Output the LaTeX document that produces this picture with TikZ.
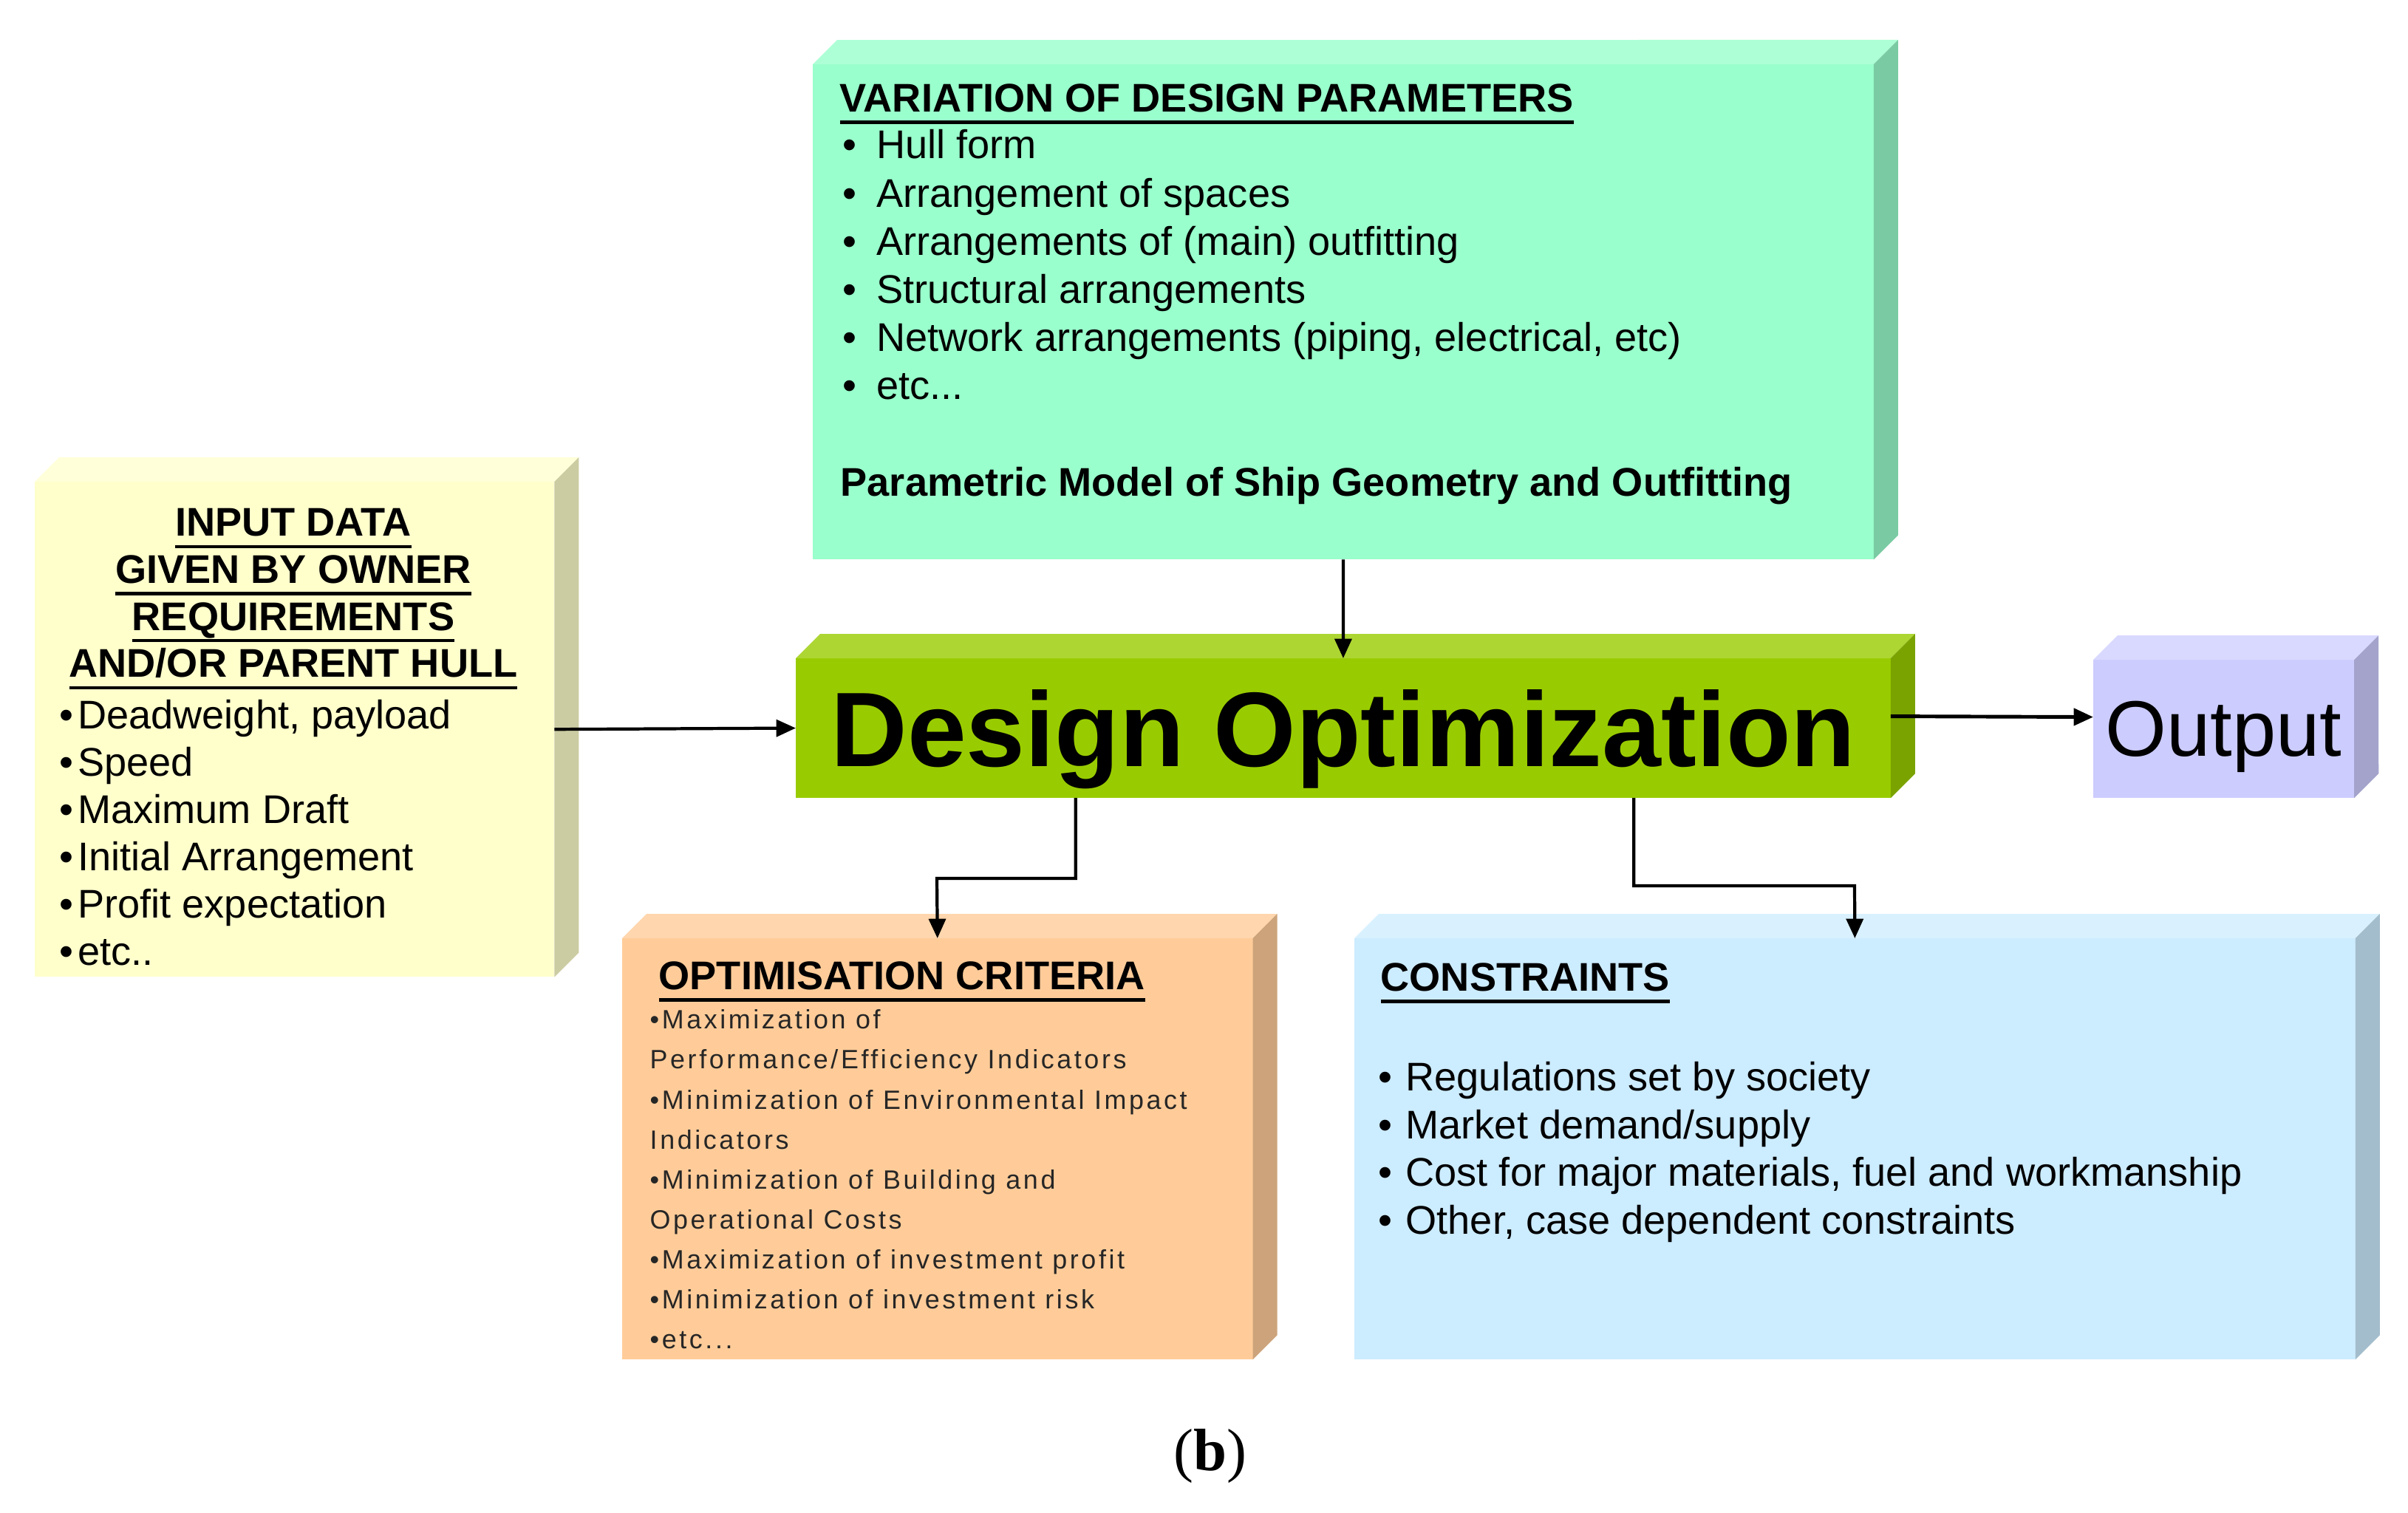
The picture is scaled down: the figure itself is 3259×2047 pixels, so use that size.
\documentclass[tikz,border=0pt]{standalone}
\usepackage{fontspec}
\setmainfont{Liberation Sans}
\newfontfamily\serifb{Liberation Serif}
\newfontfamily\critfont[LetterSpace=10]{Liberation Sans}
\usetikzlibrary{arrows.meta,calc}
\definecolor{varFront}{HTML}{99FFCC}
\definecolor{varTop}{HTML}{ADFFD6}
\definecolor{varSide}{HTML}{7ACBA3}
\definecolor{inpFront}{HTML}{FFFFCC}
\definecolor{inpTop}{HTML}{FFFFD9}
\definecolor{inpSide}{HTML}{CCCCA3}
\definecolor{doptFront}{HTML}{99CC00}
\definecolor{doptTop}{HTML}{ADD633}
\definecolor{doptSide}{HTML}{7AA300}
\definecolor{outFront}{HTML}{CCCCFF}
\definecolor{outTop}{HTML}{D9D9FF}
\definecolor{outSide}{HTML}{A3A3CC}
\definecolor{critFront}{HTML}{FFCC99}
\definecolor{critTop}{HTML}{FFD6AD}
\definecolor{critSide}{HTML}{CCA37A}
\definecolor{consFront}{HTML}{CCECFF}
\definecolor{consTop}{HTML}{D9F1FF}
\definecolor{consSide}{HTML}{A3BDCC}
\newcommand{\hdr}[1]{\setbox0\hbox{#1}\rlap{\rule[-4.6pt]{\wd0}{1.3pt}}\box0}
\newcommand{\blt}[1][13pt]{\makebox[#1][l]{\textbullet}}

\begin{document}
\begin{tikzpicture}[x=0.01cm,y=-0.01cm,
  face/.style={rectangle,inner sep=0pt,outer sep=0pt,anchor=north west},
  txt/.style={inner sep=0pt,anchor=north west,align=left,font=\fontsize{15.4}{18.5}\selectfont},
  head/.style={txt,font=\bfseries\fontsize{15.4}{18.1}\selectfont},
  arr/.style={line width=1.2pt,-{Triangle[length=7.5pt,width=6.5pt]}}]
  \fill[white] (0,0) rectangle (3259,2047);
  \useasboundingbox (0,0) rectangle (3259,2047);

  % Front faces of the boxes
  \node[face,fill=varFront,minimum width=14.35cm,minimum height=6.70cm] (var) at (1100,87) {};
  \node[face,fill=inpFront,minimum width=7.03cm,minimum height=6.70cm] (inp) at (47,652) {};
  \node[face,fill=doptFront,minimum width=14.81cm,minimum height=1.89cm,text depth=0pt,
        font=\bfseries\fontsize{40.8}{48}\selectfont] (dopt) at (1077,891) {Design Optimization};
  \node[face,fill=outFront,minimum width=3.53cm,minimum height=1.87cm,text depth=0pt,
        font=\fontsize{30.3}{36}\selectfont] (out) at (2833,893) {Output};
  \node[face,fill=critFront,minimum width=8.53cm,minimum height=5.70cm] (crit) at (842,1270) {};
  \node[face,fill=consFront,minimum width=13.54cm,minimum height=5.70cm] (cons) at (1833,1270) {};

  % Top and side faces
  \foreach \b in {var,inp,dopt,out,crit,cons}{
    \fill[\b Top] (\b.north west) -- ++(33,-33) -- ([shift={(0.33cm,0.33cm)}]\b.north east) -- (\b.north east) -- cycle;
    \fill[\b Side] (\b.north east) -- ++(33,-33) -- ([shift={(0.33cm,0.33cm)}]\b.south east) -- (\b.south east) -- cycle;
  }

  % Variation of design parameters
  \node[head] (varHead) at (1136,113) {\hdr{VARIATION OF DESIGN PARAMETERS}};
  \node[txt] (varList) at (1140,175) {\blt Hull form\\ \blt Arrangement of spaces\\
    \blt Arrangements of (main) outfitting\\ \blt Structural arrangements\\
    \blt Network arrangements (piping, electrical, etc)\\ \blt etc...};
  \node[head] (varFoot) at (1137,632) {Parametric Model of Ship Geometry and Outfitting};

  % Input data
  \node[head,anchor=north,align=center] (inpHead) at (397,688) {\hdr{INPUT DATA}\\ \hdr{GIVEN BY OWNER}\\
    \hdr{REQUIREMENTS}\\ \hdr{AND/OR PARENT HULL}};
  \node[txt,font=\fontsize{15.4}{18.2}\selectfont] (inpList) at (80,947) {\blt[7pt]Deadweight, payload\\
    \blt[7pt]Speed\\ \blt[7pt]Maximum Draft\\
    \blt[7pt]Initial Arrangement\\ \blt[7pt]Profit expectation\\ \blt[7pt]etc..};

  % Optimisation criteria
  \node[head] (critHead) at (891,1301) {\hdr{OPTIMISATION CRITERIA}};
  \node[txt,text=black!85,font=\critfont\fontsize{10.2}{15.4}\selectfont] (critList) at (879,1366)
    {\textbullet Maximization of\\ Performance/Efficiency Indicators\\
     \textbullet Minimization of Environmental Impact\\ Indicators\\
     \textbullet Minimization of Building and\\ Operational Costs\\
     \textbullet Maximization of investment profit\\ \textbullet Minimization of investment risk\\
     \textbullet etc...};

  % Constraints
  \node[head] (consHead) at (1868,1303) {\hdr{CONSTRAINTS}};
  \node[txt,font=\fontsize{15.4}{18.3}\selectfont] (consList) at (1865,1437) {\blt[10.5pt]Regulations set by society\\
    \blt[10.5pt]Market demand/supply\\
    \blt[10.5pt]Cost for major materials, fuel and workmanship\\ \blt[10.5pt]Other, case dependent constraints};

  % Connectors
  \coordinate (critBend) at (1268,1189);
  \coordinate (consBend) at (2510,1199);
  \draw[arr] (inp.east) -- (dopt.west);
  \draw[arr] (var.south) -- (dopt.north);
  \draw[arr,line width=1.4pt] ([yshift=0.16cm]dopt.east) -- ([yshift=0.16cm]out.west);
  \draw[arr] ([xshift=-3.62cm]dopt.south) |- (critBend) -- (crit.north);
  \draw[arr] ([xshift=3.93cm]dopt.south) |- (consBend) -- (cons.north);

  % Panel label
  \node[font=\serifb\fontsize{23}{27}\selectfont] (panel) at (1638,1971) {(\textbf{b})};
\end{tikzpicture}
\end{document}
